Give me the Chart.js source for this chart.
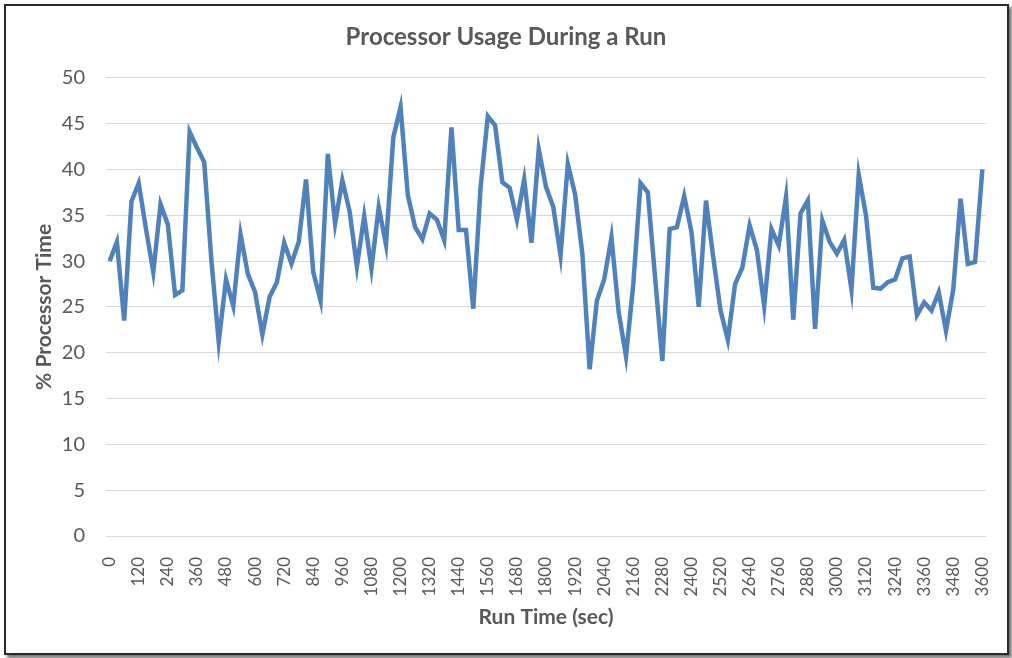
<!DOCTYPE html>
<html>
<head>
<meta charset="utf-8">
<script src="https://cdn.jsdelivr.net/npm/chart.js@4"></script>
<style>
  html, body { margin: 0; padding: 0; background: #fff; }
  #wrap { position: relative; width: 1012px; height: 658px; overflow: hidden; }
  #frame {
    position: absolute; left: 4px; top: 4px; width: 1001px; height: 647px;
    border: 2px solid #2a2a2a; background: #fff;
    box-shadow: 3px 3px 3px rgba(0,0,0,0.55);
  }
  #myChart { position: absolute; left: 0; top: 0; }
</style>
</head>
<body>
<div id="wrap">
  <div id="frame"></div>
  <canvas id="myChart" width="1012" height="658"></canvas>
</div>
<script>
const runTime = [0,30,60,90,120,150,180,210,240,270,300,330,360,390,420,450,480,510,540,570,
  600,630,660,690,720,750,780,810,840,870,900,930,960,990,1020,1050,1080,1110,1140,1170,
  1200,1230,1260,1290,1320,1350,1380,1410,1440,1470,1500,1530,1560,1590,1620,1650,1680,1710,1740,1770,
  1800,1830,1860,1890,1920,1950,1980,2010,2040,2070,2100,2130,2160,2190,2220,2250,2280,2310,2340,2370,
  2400,2430,2460,2490,2520,2550,2580,2610,2640,2670,2700,2730,2760,2790,2820,2850,2880,2910,2940,2970,
  3000,3030,3060,3090,3120,3150,3180,3210,3240,3270,3300,3330,3360,3390,3420,3450,3480,3510,3540,3570,3600];

const processorTime = [30.0,32.1,23.5,36.5,38.5,33.5,28.8,36.2,34.0,26.3,26.8,44.1,42.4,40.8,30.0,21.2,28.0,25.1,32.9,28.6,26.6,22.0,26.1,27.7,32.0,29.7,32.1,38.9,28.8,25.7,
  41.7,34.1,38.8,35.4,29.4,34.9,29.2,35.9,31.8,43.5,46.8,37.2,33.7,32.4,35.2,34.5,32.3,44.6,33.4,33.4,24.8,38.0,45.8,44.8,38.6,38.0,34.5,38.9,32.0,42.2,
  38.1,35.9,30.6,40.6,37.3,30.8,18.2,25.7,28.0,32.6,24.4,19.6,27.5,38.5,37.5,28.2,19.1,33.5,33.7,37.1,33.2,25.0,36.6,30.4,24.6,21.4,27.5,29.3,33.9,31.2,
  25.1,33.5,31.7,37.0,23.6,35.2,36.6,22.6,34.4,32.1,30.8,32.3,26.9,39.4,35.0,27.1,27.0,27.7,28.0,30.3,30.5,24.1,25.5,24.6,26.6,22.4,26.9,36.8,29.7,29.9,40.0];

const xTicks = [0,120,240,360,480,600,720,840,960,1080,1200,1320,1440,1560,1680,1800,1920,2040,2160,2280,
  2400,2520,2640,2760,2880,3000,3120,3240,3360,3480,3600];
const yTicks = [0,5,10,15,20,25,30,35,40,45,50];

const textColor = '#595959';
Chart.defaults.font.family = 'Lato';
Chart.defaults.color = textColor;

const ctx = document.getElementById('myChart');
new Chart(ctx, {
  type: 'line',
  data: {
    datasets: [{
      label: '% Processor Time',
      data: runTime.map((t, i) => ({ x: t, y: processorTime[i] })),
      borderColor: '#4f81bd',
      borderWidth: 4.5,
      pointRadius: 0,
      tension: 0,
      fill: false
    }]
  },
  options: {
    responsive: false,
    animation: false,
    layout: { padding: { left: 0, right: 0, top: 22, bottom: 0 } },
    plugins: {
      legend: { display: false },
      tooltip: { enabled: false },
      title: {
        display: true,
        text: 'Processor Usage During a Run',
        color: textColor,
        font: { size: 24, weight: 'bold' },
        padding: { top: 1, bottom: 26 }
      }
    },
    scales: {
      x: {
        type: 'linear',
        min: -15,
        max: 3615,
        afterBuildTicks: s => { s.ticks = xTicks.map(v => ({ value: v })); },
        afterFit: s => {
          s.height = 658 - 536;
          s.paddingLeft = 0;
          s.paddingRight = 26;
        },
        grid: { display: false },
        border: { display: false },
        ticks: {
          autoSkip: false,
          minRotation: 90,
          maxRotation: 90,
          padding: 13,
          color: textColor,
          font: { size: 17 },
          callback: v => String(v)
        },
        title: {
          display: true,
          text: 'Run Time (sec)',
          color: textColor,
          font: { size: 21, weight: 'bold' },
          padding: { top: 0, bottom: 28 }
        }
      },
      y: {
        min: 0,
        max: 50,
        afterBuildTicks: s => { s.ticks = yTicks.map(v => ({ value: v })); },
        afterFit: s => { s.width = 106; },
        grid: { color: '#d9d9d9', lineWidth: 1, drawTicks: false },
        border: { display: false },
        ticks: {
          padding: 21,
          color: textColor,
          font: { size: 20 }
        },
        title: {
          display: true,
          text: '% Processor Time',
          color: textColor,
          font: { size: 21, weight: 'bold' },
          padding: { top: 32, bottom: 0 }
        }
      }
    }
  }
});
</script>
</body>
</html>
